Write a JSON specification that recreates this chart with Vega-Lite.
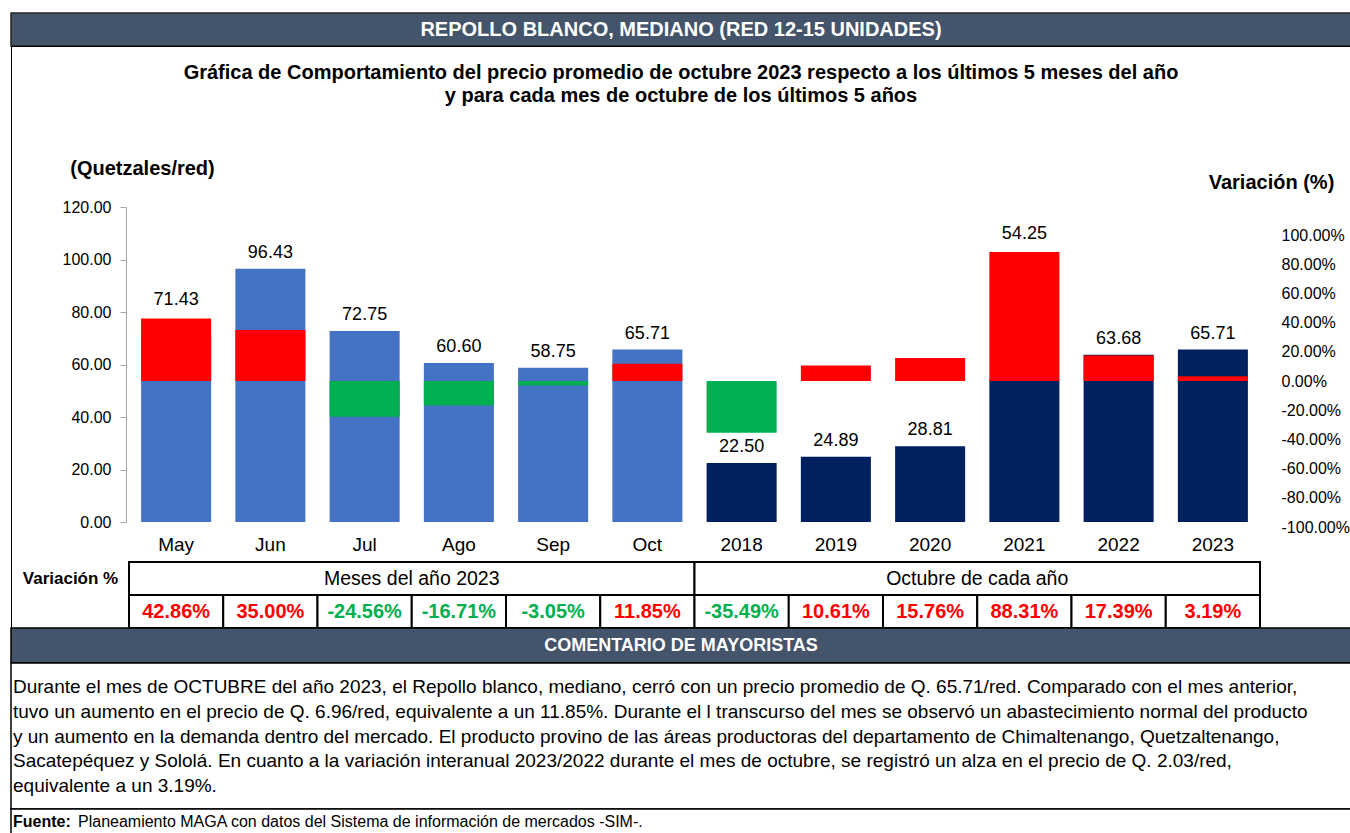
{
  "$schema": "https://vega.github.io/schema/vega-lite/v6.json",
  "background": "white",
  "padding": {"left": 10, "top": 12, "right": 0, "bottom": 0},
  "bounds": "flush",
  "spacing": 0,
  "locale": {"number": {"decimal": ".", "thousands": ",", "grouping": [3], "currency": ["Q", ""], "minus": "-"}},
  "config": {
    "font": "Liberation Sans",
    "view": {"stroke": null},
    "locale": {"number": {"decimal": ".", "thousands": ",", "grouping": [3], "currency": ["Q", ""], "minus": "-"}},
    "axis": {"grid": false, "labelFont": "Liberation Sans", "titleFont": "Liberation Sans"},
    "text": {"font": "Liberation Sans"}
  },
  "datasets": {
    "precios": [
      {"cat": "May", "precio": 71.43, "variacion": 0.4286, "tipo": "mes"},
      {"cat": "Jun", "precio": 96.43, "variacion": 0.35, "tipo": "mes"},
      {"cat": "Jul", "precio": 72.75, "variacion": -0.2456, "tipo": "mes"},
      {"cat": "Ago", "precio": 60.6, "variacion": -0.1671, "tipo": "mes"},
      {"cat": "Sep", "precio": 58.75, "variacion": -0.0305, "tipo": "mes"},
      {"cat": "Oct", "precio": 65.71, "variacion": 0.1185, "tipo": "mes"},
      {"cat": "2018", "precio": 22.5, "variacion": -0.3549, "tipo": "año"},
      {"cat": "2019", "precio": 24.89, "variacion": 0.1061, "tipo": "año"},
      {"cat": "2020", "precio": 28.81, "variacion": 0.1576, "tipo": "año"},
      {"cat": "2021", "precio": 54.25, "variacion": 0.8831, "tipo": "año"},
      {"cat": "2022", "precio": 63.68, "variacion": 0.1739, "tipo": "año"},
      {"cat": "2023", "precio": 65.71, "variacion": 0.0319, "tipo": "año"}
    ]
  },
  "vconcat": [
    {
      "width": 1340, "height": 33,
      "view": {"fill": "#44546A", "stroke": "#262626", "strokeWidth": 1.5},
      "data": {"values": [{"titulo": "REPOLLO BLANCO, MEDIANO (RED 12-15 UNIDADES)"}]},
      "mark": {"type": "text", "fontSize": 20, "fontWeight": "bold", "color": "white", "baseline": "middle"},
      "encoding": {"text": {"field": "titulo"}}
    },
    {
      "width": 1340, "height": 582,
      "view": {"fill": "white", "stroke": "#000000", "strokeWidth": 1},
      "resolve": {"scale": {"x": "independent", "y": "independent"}},
      "layer": [
        {
          "data": {"values": [
            {"n": 1, "linea": "Gráfica de Comportamiento del precio promedio de octubre 2023 respecto a los últimos 5 meses del año"},
            {"n": 2, "linea": "y para cada mes de octubre de los últimos 5 años"}
          ]},
          "mark": {"type": "text", "fontSize": 20, "fontWeight": "bold", "color": "#000", "baseline": "middle"},
          "encoding": {
            "y": {"field": "n", "type": "ordinal", "scale": {"type": "point", "domain": [1, 2], "range": [27, 50], "padding": 0}, "axis": null},
            "text": {"field": "linea"}
          }
        },
        {
          "data": {"name": "precios"},
          "mark": {"type": "bar"},
          "encoding": {
            "x": {"field": "cat", "type": "nominal",
              "scale": {"type": "band", "domain": ["May","Jun","Jul","Ago","Sep","Oct","2018","2019","2020","2021","2022","2023"], "range": [118, 1249], "paddingInner": 0.257, "paddingOuter": 0.1285},
              "axis": {"orient": "bottom", "offset": -106, "domain": false, "ticks": false, "tickSize": 0, "labelPadding": 13, "labelFontSize": 19, "labelColor": "#000", "labelAngle": 0, "title": null}},
            "y": {"field": "precio", "type": "quantitative",
              "scale": {"domain": [0, 120], "range": [476, 161], "nice": false, "zero": true},
              "axis": {"orient": "left", "offset": -115, "values": [0, 20, 40, 60, 80, 100, 120], "format": ".2f", "tickSize": 6, "tickColor": "#A6A6A6", "domainColor": "#A6A6A6", "labelPadding": 9, "labelFontSize": 16, "labelColor": "#000",
                "title": "(Quetzales/red)", "titleAngle": 0, "titleX": 16, "titleY": 122, "titleAlign": "center", "titleBaseline": "middle", "titleFontSize": 20, "titleFontWeight": "bold", "titleColor": "#000"}},
            "color": {"field": "tipo", "type": "nominal", "scale": {"domain": ["mes", "año"], "range": ["#4472C4", "#002060"]}, "legend": null}
          }
        },
        {
          "data": {"name": "precios"},
          "mark": {"type": "bar"},
          "encoding": {
            "x": {"field": "cat", "type": "nominal",
              "scale": {"type": "band", "domain": ["May","Jun","Jul","Ago","Sep","Oct","2018","2019","2020","2021","2022","2023"], "range": [118, 1249], "paddingInner": 0.257, "paddingOuter": 0.1285},
              "axis": null},
            "y": {"field": "variacion", "type": "quantitative",
              "scale": {"domain": [-1, 1.2], "range": [481, 159.8], "nice": false, "zero": true},
              "axis": {"orient": "right", "offset": -70, "values": [-1, -0.8, -0.6, -0.4, -0.2, 0, 0.2, 0.4, 0.6, 0.8, 1], "format": ".2%", "labelExpr": "replace(datum.label, '−', '-')", "domain": false, "ticks": false, "tickSize": 0, "labelPadding": 0, "labelFontSize": 16, "labelColor": "#000",
                "title": "Variación (%)", "titleAngle": 0, "titleX": -10, "titleY": 136, "titleAlign": "center", "titleBaseline": "middle", "titleFontSize": 20, "titleFontWeight": "bold", "titleColor": "#000"}},
            "color": {"condition": {"test": "datum.variacion < 0", "value": "#00B050"}, "value": "#FF0000"}
          }
        },
        {
          "data": {"name": "precios"},
          "transform": [{"filter": "datum.precio < 53.71 || 53.71 + 55.62 * datum.variacion <= datum.precio"}],
          "mark": {"type": "text", "fontSize": 18, "dy": -11, "baseline": "alphabetic", "color": "#000"},
          "encoding": {
            "x": {"field": "cat", "type": "nominal",
              "scale": {"type": "band", "domain": ["May","Jun","Jul","Ago","Sep","Oct","2018","2019","2020","2021","2022","2023"], "range": [118, 1249], "paddingInner": 0.257, "paddingOuter": 0.1285},
              "axis": null},
            "y": {"field": "precio", "type": "quantitative", "scale": {"domain": [0, 120], "range": [476, 161], "nice": false, "zero": true}, "axis": null},
            "text": {"field": "precio", "type": "quantitative", "format": ".2f"}
          }
        },
        {
          "data": {"name": "precios"},
          "transform": [{"filter": "datum.precio >= 53.71 && 53.71 + 55.62 * datum.variacion > datum.precio"}],
          "mark": {"type": "text", "fontSize": 18, "dy": -13, "baseline": "alphabetic", "color": "#000"},
          "encoding": {
            "x": {"field": "cat", "type": "nominal",
              "scale": {"type": "band", "domain": ["May","Jun","Jul","Ago","Sep","Oct","2018","2019","2020","2021","2022","2023"], "range": [118, 1249], "paddingInner": 0.257, "paddingOuter": 0.1285},
              "axis": null},
            "y": {"field": "variacion", "type": "quantitative", "scale": {"domain": [-1, 1.2], "range": [481, 159.8], "nice": false, "zero": true}, "axis": null},
            "text": {"field": "precio", "type": "quantitative", "format": ".2f"}
          }
        },
        {
          "data": {"values": [{"grupo": "Meses del año 2023"}, {"grupo": "Octubre de cada año"}]},
          "mark": {"type": "rect", "fill": "white", "stroke": "#000", "strokeWidth": 2},
          "encoding": {
            "x": {"field": "grupo", "type": "nominal", "scale": {"type": "band", "domain": ["Meses del año 2023", "Octubre de cada año"], "range": [118, 1249], "paddingInner": 0, "paddingOuter": 0}, "axis": null},
            "y": {"datum": "r1", "type": "nominal", "scale": {"type": "band", "domain": ["r1", "r2"], "range": [516, 582], "paddingInner": 0, "paddingOuter": 0}, "axis": null}
          }
        },
        {
          "data": {"values": [{"grupo": "Meses del año 2023"}, {"grupo": "Octubre de cada año"}]},
          "mark": {"type": "text", "fontSize": 19.5, "color": "#000", "baseline": "middle"},
          "encoding": {
            "x": {"field": "grupo", "type": "nominal", "scale": {"type": "band", "domain": ["Meses del año 2023", "Octubre de cada año"], "range": [118, 1249], "paddingInner": 0, "paddingOuter": 0}, "axis": null},
            "y": {"datum": "r1", "type": "nominal", "scale": {"type": "band", "domain": ["r1", "r2"], "range": [516, 582], "paddingInner": 0, "paddingOuter": 0}, "axis": null},
            "text": {"field": "grupo"}
          }
        },
        {
          "data": {"name": "precios"},
          "mark": {"type": "rect", "fill": "white", "stroke": "#000", "strokeWidth": 2},
          "encoding": {
            "x": {"field": "cat", "type": "nominal", "scale": {"type": "band", "domain": ["May","Jun","Jul","Ago","Sep","Oct","2018","2019","2020","2021","2022","2023"], "range": [118, 1249], "paddingInner": 0, "paddingOuter": 0}, "axis": null},
            "y": {"datum": "r2", "type": "nominal", "scale": {"type": "band", "domain": ["r1", "r2"], "range": [516, 582], "paddingInner": 0, "paddingOuter": 0}, "axis": null}
          }
        },
        {
          "data": {"name": "precios"},
          "mark": {"type": "text", "fontSize": 20, "fontWeight": "bold", "baseline": "middle", "text": {"expr": "replace(format(datum.variacion, '.2%'), '−', '-')"}},
          "encoding": {
            "x": {"field": "cat", "type": "nominal", "scale": {"type": "band", "domain": ["May","Jun","Jul","Ago","Sep","Oct","2018","2019","2020","2021","2022","2023"], "range": [118, 1249], "paddingInner": 0, "paddingOuter": 0}, "axis": null},
            "y": {"datum": "r2", "type": "nominal", "scale": {"type": "band", "domain": ["r1", "r2"], "range": [516, 582], "paddingInner": 0, "paddingOuter": 0}, "axis": null},
            "color": {"condition": {"test": "datum.variacion < 0", "value": "#00B050"}, "value": "#FF0000"}
          }
        },
        {
          "data": {"values": [{"etiqueta": "Variación %"}]},
          "mark": {"type": "text", "fontSize": 17, "fontWeight": "bold", "color": "#000", "baseline": "middle"},
          "encoding": {
            "x": {"field": "etiqueta", "type": "nominal", "scale": {"type": "band", "domain": ["Variación %"], "range": [0, 119], "paddingInner": 0, "paddingOuter": 0}, "axis": null},
            "y": {"datum": "r1", "type": "nominal", "scale": {"type": "band", "domain": ["r1", "r2"], "range": [516, 582], "paddingInner": 0, "paddingOuter": 0}, "axis": null},
            "text": {"field": "etiqueta"}
          }
        }
      ]
    },
    {
      "width": 1340, "height": 35,
      "view": {"fill": "#44546A", "stroke": "#000000", "strokeWidth": 1.5},
      "data": {"values": [{"t": "COMENTARIO DE MAYORISTAS"}]},
      "mark": {"type": "text", "fontSize": 18, "fontWeight": "bold", "color": "white", "baseline": "middle"},
      "encoding": {"text": {"field": "t"}}
    },
    {
      "width": 1340, "height": 146,
      "view": {"fill": "white", "stroke": "#000000", "strokeWidth": 1.5},
      "data": {"values": [
        {"n": 1, "texto": "Durante el mes de OCTUBRE del año 2023, el  Repollo blanco, mediano, cerró con un precio promedio de Q. 65.71/red. Comparado con el mes anterior,"},
        {"n": 2, "texto": "tuvo un aumento en el precio de Q. 6.96/red, equivalente a un 11.85%. Durante el l transcurso del mes se observó un abastecimiento normal del producto"},
        {"n": 3, "texto": "y un aumento en la demanda dentro del mercado. El producto provino de las áreas productoras del departamento de Chimaltenango, Quetzaltenango,"},
        {"n": 4, "texto": "Sacatepéquez y Sololá. En cuanto a la variación interanual 2023/2022 durante el mes de octubre, se registró un alza en el precio de Q. 2.03/red,"},
        {"n": 5, "texto": "equivalente a un 3.19%."}
      ]},
      "mark": {"type": "text", "fontSize": 19, "align": "left", "baseline": "middle", "color": "#000"},
      "encoding": {
        "x": {"datum": 0, "type": "quantitative", "scale": {"domain": [0, 1], "range": [2, 1340]}, "axis": null},
        "y": {"field": "n", "type": "ordinal", "scale": {"type": "point", "domain": [1, 2, 3, 4, 5], "range": [24, 123], "padding": 0}, "axis": null},
        "text": {"field": "texto"}
      }
    },
    {
      "width": 1340, "height": 25,
      "view": {"fill": "white", "stroke": "#000000", "strokeWidth": 1.5},
      "resolve": {"scale": {"x": "independent"}},
      "layer": [
        {
          "data": {"values": [{"parte": "Fuente:"}]},
          "mark": {"type": "text", "fontSize": 16, "fontWeight": "bold", "align": "left", "baseline": "middle", "color": "#000"},
          "encoding": {
            "x": {"datum": 0, "type": "quantitative", "scale": {"domain": [0, 1], "range": [2, 1340]}, "axis": null},
            "text": {"field": "parte"}
          }
        },
        {
          "data": {"values": [{"parte": "Planeamiento MAGA con datos del Sistema de información de mercados -SIM-."}]},
          "mark": {"type": "text", "fontSize": 16, "align": "left", "baseline": "middle", "color": "#000"},
          "encoding": {
            "x": {"datum": 0, "type": "quantitative", "scale": {"domain": [0, 1], "range": [67, 1340]}, "axis": null},
            "text": {"field": "parte"}
          }
        }
      ]
    }
  ]
}
